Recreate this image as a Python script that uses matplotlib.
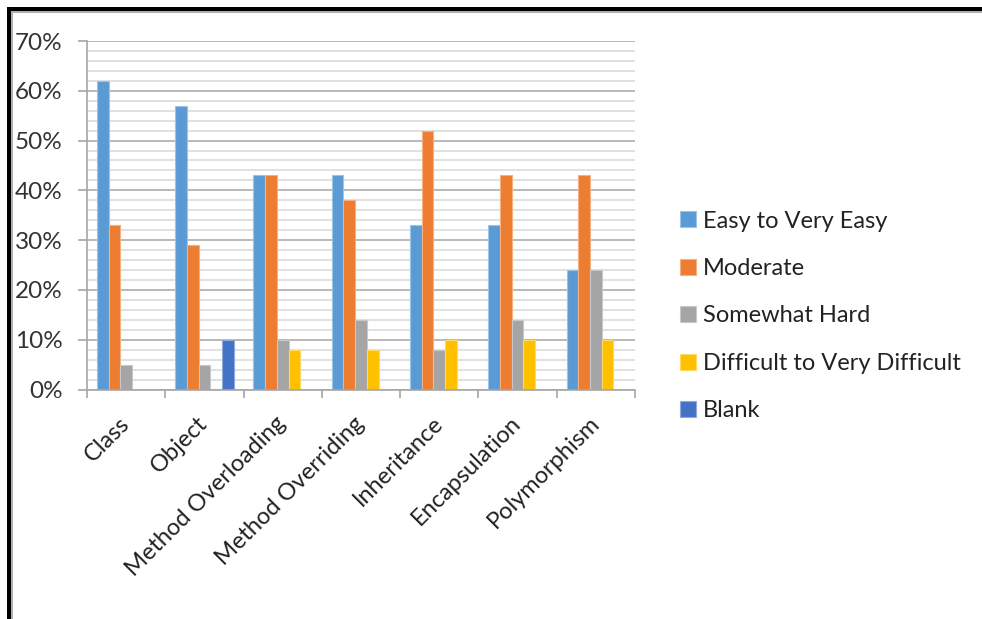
import numpy as np
import matplotlib
matplotlib.use("Agg")
import matplotlib.pyplot as plt
from matplotlib.patches import Rectangle, Patch
from matplotlib.ticker import MultipleLocator, PercentFormatter, FixedLocator

plt.rcParams['font.family'] = ['Lato', 'DejaVu Sans']

categories = ["Class", "Object", "Method Overloading", "Method Overriding",
              "Inheritance", "Encapsulation", "Polymorphism"]
series_names = ["Easy to Very Easy", "Moderate", "Somewhat Hard",
                "Difficult to Very Difficult", "Blank"]
easy = [62, 57, 43, 43, 33, 33, 24]
moderate = [33, 29, 43, 38, 52, 43, 43]
somewhat_hard = [5, 5, 10, 14, 8, 14, 24]
difficult = [0, 0, 8, 8, 10, 10, 10]
blank = [0, 10, 0, 0, 0, 0, 0]
yticks = [0, 10, 20, 30, 40, 50, 60, 70]

series = [easy, moderate, somewhat_hard, difficult, blank]
colors = ["#5B9BD5", "#ED7D31", "#A5A5A5", "#FFC000", "#4472C4"]
edges = ["#9DC3E6", "#F4B183", "#C9C9C9", "#FFD966", "#8FAADC"]

W, H = 982, 619
fig = plt.figure(figsize=(W / 100, H / 100), dpi=100)
ax = fig.add_axes([87 / W, 1 - 389.5 / H, (635 - 87) / W, (389.5 - 41) / H])

x = np.arange(len(categories))
bw = 0.15
for i, (vals, c, ec, name) in enumerate(zip(series, colors, edges, series_names)):
    vals = np.asarray(vals, dtype=float)
    lw = np.where(vals > 0, 0.8, 0.0)
    ax.bar(x + (i - 2) * bw, vals, width=bw, color=c, edgecolor=ec,
           linewidth=lw, zorder=3, label=name)

ax.set_xlim(-0.5, len(categories) - 0.5)
ax.set_ylim(0, 70)
ax.set_yticks(yticks)
ax.yaxis.set_major_formatter(PercentFormatter(decimals=0))
ax.yaxis.set_minor_locator(MultipleLocator(2))
ax.grid(axis='y', which='major', color='#A6A6A6', linewidth=1.1, zorder=0)
ax.grid(axis='y', which='minor', color='#D9D9D9', linewidth=1.1, zorder=0)

# category boundaries carry the tick marks, centres carry the labels
ax.set_xticks(np.arange(len(categories) + 1) - 0.5)
ax.set_xticklabels([])
ax.xaxis.set_minor_locator(FixedLocator(x))
ax.set_xticklabels(categories, minor=True, rotation=45, ha='right',
                   va='center', rotation_mode='anchor')
ax.tick_params(axis='x', which='minor', length=0, pad=22, labelsize=17,
               labelcolor='#222222')
ax.tick_params(axis='x', which='major', length=6, width=1.2, color='#A6A6A6',
               direction='out')
ax.tick_params(axis='y', which='major', length=6.5, width=1.2, color='#A6A6A6',
               pad=11, labelsize=17.5, labelcolor='#333333')
ax.tick_params(axis='y', which='minor', length=0)

for s in ['top', 'right']:
    ax.spines[s].set_visible(False)
for s in ['left', 'bottom']:
    ax.spines[s].set_color('#A6A6A6')
    ax.spines[s].set_linewidth(1.2)
    ax.spines[s].set_zorder(4)

handles = [Patch(facecolor=c, edgecolor=ec, linewidth=0.8)
           for c, ec in zip(colors, edges)]
fig.legend(handles, series_names, loc='center left',
           bbox_to_anchor=(680 / W, 1 - 316 / H), frameon=False,
           fontsize=17, handlelength=0.68, handleheight=0.68,
           handletextpad=0.3, labelspacing=1.12, borderpad=0,
           borderaxespad=0, labelcolor='#222222')

# page frame: heavy black rule on the left and top with a grey shadow
def px_rect(x0, y0, w, h, color):
    fig.add_artist(Rectangle((x0 / W, 1 - (y0 + h) / H), w / W, h / H,
                             transform=fig.transFigure, facecolor=color,
                             edgecolor='none', zorder=10))

px_rect(7, 7, W - 7, 4, '#000000')
px_rect(11, 11, W - 11, 1.5, '#B0B0B0')
px_rect(7, 7, 4, H - 7, '#000000')
px_rect(11, 11, 1.5, H - 11, '#B0B0B0')

fig.savefig("out.png", dpi=100, facecolor='white')
